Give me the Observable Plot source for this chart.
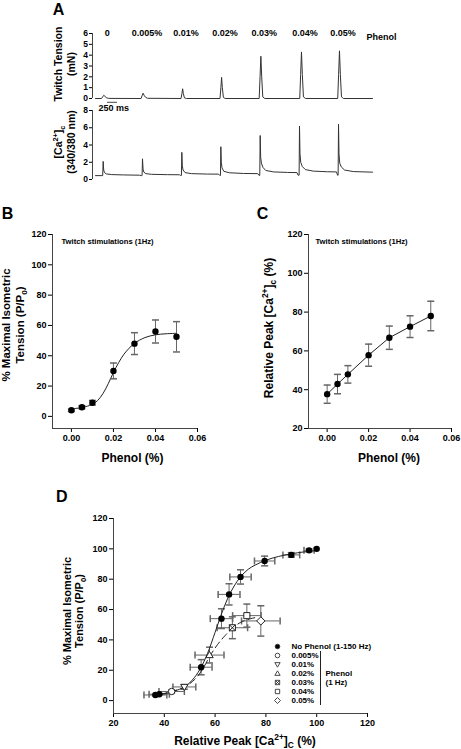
<!DOCTYPE html>
<html><head><meta charset="utf-8">
<script src="https://cdn.jsdelivr.net/npm/d3@7"></script>
<script src="https://cdn.jsdelivr.net/npm/@observablehq/plot@0.6"></script>
<style>
body{margin:0;background:#fff;}
#fig{position:relative;width:461px;height:749px;overflow:hidden;font-family:"Liberation Sans",Arial,sans-serif;font-weight:bold;color:#000;background:#fff;}
.t{position:absolute;white-space:nowrap;text-align:center;transform:translate(-50%,-50%);line-height:1;}
.yt{position:absolute;white-space:nowrap;text-align:center;transform:translate(-50%,-50%) rotate(-90deg);}
sup,sub{font-size:70%;line-height:0;}
svg{overflow:visible;}
</style></head><body><div id="fig"></div>
<script>
// ---------- DATA ----------
// Panel A traces: [time (ms), value]
const stimLabels = ["0", "0.005%", "0.01%", "0.02%", "0.03%", "0.04%", "0.05%"];
const stimTimes = [208, 1201, 2177, 3152, 4136, 5154, 6104];
const tensionTrace = [[0,0],[150,0],[180,0.15],[208,0.3],[235,0.2],[270,0.08],[330,0.01],[1140,0],[1165,0.25],[1190,0.49],[1215,0.3],[1250,0.12],[1300,0.02],[2140,0],[2162,0.45],[2180,0.9],[2198,0.45],[2225,0.06],[2275,0],[3115,0],[3137,1.0],[3155,1.95],[3173,1.0],[3200,0.1],[3245,0],[4095,0],[4117,2.0],[4137,3.9],[4158,2.0],[4185,0.15],[4235,0],[5110,0],[5132,2.2],[5153,4.3],[5175,2.2],[5202,0.15],[5255,0],[6060,0],[6082,2.2],[6104,4.4],[6126,2.2],[6154,0.15],[6205,0],[6930,0]];
const calciumTrace = [[0,0.45],[180,0.45],[192,2.1],[205,1.1],[225,0.8],[270,0.65],[400,0.57],[700,0.53],[1100,0.5],[1150,0.45],[1165,0.45],[1176,2.4],[1190,1.2],[1210,0.85],[1260,0.68],[1400,0.6],[1800,0.56],[2100,0.55],[2130,0.47],[2150,0.47],[2160,3.15],[2172,1.6],[2190,1.1],[2240,0.8],[2400,0.68],[2800,0.63],[3080,0.62],[3110,0.47],[3126,0.47],[3136,3.8],[3148,2.0],[3165,1.35],[3210,0.95],[3350,0.78],[3700,0.7],[4060,0.68],[4090,0.48],[4110,0.48],[4120,5.1],[4132,2.6],[4150,1.9],[4190,1.4],[4260,1.05],[4450,0.88],[4800,0.82],[5040,0.8],[5070,0.5],[5094,0.5],[5104,6.2],[5116,3.0],[5134,2.0],[5175,1.5],[5250,1.15],[5450,0.97],[5800,0.9],[6030,0.88],[6055,0.5],[6070,0.5],[6080,6.4],[6092,3.0],[6110,1.9],[6150,1.45],[6230,1.1],[6450,0.92],[6930,0.85]];
const scaleBarMs = [300, 550];

// Panels B & C
const phenol = [0, 0.005, 0.01, 0.02, 0.03, 0.04, 0.05];
const tensionMean = [4, 6, 9, 30, 48, 56, 52.5];
const tensionErr = [0.8, 1, 1.5, 5.2, 7.2, 7.6, 10];
const caMean = [37.7, 42.9, 47.9, 57.8, 66.8, 72.5, 78];
const caErr = [4.7, 5, 4.5, 5.7, 6, 5.6, 7.6];
const fitBx = [0, 0.005, 0.01, 0.0125, 0.015, 0.0175, 0.02, 0.0225, 0.025, 0.0275, 0.03, 0.035, 0.04, 0.045, 0.05];
const fitBy = [5, 5.8, 8, 10.5, 15, 21.5, 29, 35.5, 41, 45, 48.2, 52, 53.8, 54.5, 54.8];

// Panel D: no phenol (1-150 Hz)
const npCa = [36.5, 38, 54.5, 62.5, 65.5, 70, 79.5, 90, 97, 100];
const npCaErr = [4.5, 4, 4.3, 4.4, 4.3, 4.2, 4, 3.3, 2, 0];
const npTen = [3.7, 4.2, 22, 54, 70, 81.5, 92, 96, 99, 100];
const npTenErr = [0.5, 0.5, 5, 6.5, 7, 4.7, 3.2, 1.5, 1, 0];
const npFitX = [36, 40, 44, 48, 51, 54, 57, 60, 62.5, 65, 67.5, 70, 73, 76, 80, 85, 90, 95, 100];
const npFitY = [3.5, 4.5, 6.3, 9, 13.5, 20.5, 31, 45, 57, 67.5, 75.5, 81.5, 86.5, 89.5, 92.5, 95, 96.7, 98, 98.8];
const phFitX = [38, 43, 48, 52, 55, 58, 61, 64, 67, 70, 74, 77];
const phFitY = [4, 6, 9, 14, 20.5, 29.5, 37, 43, 48, 51.5, 54, 55];
const legendLabels = ["No Phenol (1-150 Hz)", "0.005%", "0.01%", "0.02%", "0.03%", "0.04%", "0.05%"];

// ---------- HELPERS ----------
const fig = document.getElementById("fig");
function place(node, left, top) { node.style.position = "absolute"; node.style.left = left + "px"; node.style.top = top + "px"; fig.appendChild(node); return node; }
function label(htmlStr, cls, cx, cy, size, lh) {
  const d = document.createElement("div"); d.className = cls; d.innerHTML = htmlStr;
  d.style.left = cx + "px"; d.style.top = cy + "px"; d.style.fontSize = size + "px";
  if (lh) d.style.lineHeight = lh + "px";
  fig.appendChild(d);
}
const FONT = {fontFamily: '"Liberation Sans", Arial, sans-serif', fontWeight: "bold", fontSize: "9px", color: "#000", background: "none", overflow: "visible"};
const AX = "#444", EB = "#666";
const capH = {draw(c) { c.moveTo(-3.5, 0); c.lineTo(3.5, 0); }};
const capV = {draw(c) { c.moveTo(0, -3.5); c.lineTo(0, 3.5); }};
const rr = s => Math.sqrt(s / Math.PI);
const symDown = {draw(c, s) { const r = rr(s) * 1.15; c.moveTo(0, r); c.lineTo(-r, -r * 0.7); c.lineTo(r, -r * 0.7); c.closePath(); }};
const symUp = {draw(c, s) { const r = rr(s) * 1.15; c.moveTo(0, -r); c.lineTo(-r, r * 0.7); c.lineTo(r, r * 0.7); c.closePath(); }};
const symSqX = {draw(c, s) { const r = rr(s) * 0.95; c.moveTo(-r, -r); c.lineTo(r, -r); c.lineTo(r, r); c.lineTo(-r, r); c.closePath(); c.moveTo(-r, -r); c.lineTo(r, r); c.moveTo(r, -r); c.lineTo(-r, r); }};
const symSq = {draw(c, s) { const r = rr(s) * 0.95; c.moveTo(-r, -r); c.lineTo(r, -r); c.lineTo(r, r); c.lineTo(-r, r); c.closePath(); }};
const symDia = {draw(c, s) { const r = rr(s) * 1.3; c.moveTo(0, -r); c.lineTo(r, 0); c.lineTo(0, r); c.lineTo(-r, 0); c.closePath(); }};
const phenolSyms = ["circle", symDown, symUp, symSqX, symSq, symDia];

// ---------- PANEL A ----------
const xA = {domain: [-75, 6930], axis: null};
place(Plot.plot({
  width: 461, height: 80, marginLeft: 92, marginRight: 89, marginTop: 8, marginBottom: 7,
  x: xA, y: {domain: [0, 6], ticks: [0,1,2,3,4,5,6], tickFormat: d3.format("d"), tickSize: 3, tickPadding: 1.5, label: null},
  style: {...FONT, fontSize: "8.5px"},
  marks: [
    Plot.ruleX([-75], {stroke: AX}),
    Plot.line(tensionTrace, {x: d => d[0], y: d => d[1], stroke: "#333", strokeWidth: 1}),
    Plot.text(stimLabels, {x: (d, i) => stimTimes[i], y: 6, dx: 3.5, text: d => d, fontSize: 9}),
    Plot.text(["Phenol"], {frameAnchor: "top-right", textAnchor: "start", dx: -6, fontSize: 9})
  ]
}), 0, 25);

place(Plot.plot({
  width: 461, height: 90, marginLeft: 92, marginRight: 89, marginTop: 15, marginBottom: 6,
  x: xA, y: {domain: [0, 8], ticks: [0,2,4,6,8], tickFormat: d3.format("d"), tickSize: 3, tickPadding: 1.5, label: null},
  style: {...FONT, fontSize: "8.5px"},
  marks: [
    Plot.ruleX([-75], {stroke: AX}),
    Plot.line(calciumTrace, {x: d => d[0], y: d => d[1], stroke: "#333", strokeWidth: 1}),
    Plot.ruleY([8.95], {x1: scaleBarMs[0], x2: scaleBarMs[1], stroke: "#444", strokeWidth: 1}),
    Plot.text(["250 ms"], {x: scaleBarMs[0], y: 8.25, dx: -9, textAnchor: "start", fontSize: 9})
  ]
}), 0, 95);

// ---------- PANEL B ----------
const dataB = phenol.map((p, i) => ({p, t: tensionMean[i], e: tensionErr[i], c: caMean[i], ce: caErr[i]}));
const fitB = fitBx.map((x, i) => ({x, y: fitBy[i]}));
const xBC = {domain: [-0.009, 0.06], ticks: [0, 0.02, 0.04, 0.06], tickFormat: d3.format(".2f"), tickSize: 4, tickPadding: 2, label: null};
place(Plot.plot({
  width: 230, height: 260, marginLeft: 52, marginRight: 33, marginTop: 9, marginBottom: 57,
  x: xBC, y: {domain: [-8, 120], ticks: [0,20,40,60,80,100,120], tickSize: 4, tickPadding: 2, label: null},
  style: FONT,
  marks: [
    Plot.ruleX([-0.009], {stroke: AX}), Plot.ruleY([-8], {stroke: AX}),
    Plot.line(fitB, {x: "x", y: "y", curve: "catmull-rom", stroke: "#222", strokeWidth: 1}),
    Plot.ruleX(dataB, {x: "p", y1: d => d.t - d.e, y2: d => d.t + d.e, stroke: EB}),
    Plot.dot(dataB, {x: "p", y: d => d.t + d.e, symbol: capH, stroke: EB}),
    Plot.dot(dataB, {x: "p", y: d => d.t - d.e, symbol: capH, stroke: EB}),
    Plot.dot(dataB, {x: "p", y: "t", r: 3.2, fill: "#000"}),
    Plot.text(["Twitch stimulations (1Hz)"], {frameAnchor: "top-left", textAnchor: "start", dx: 9, dy: 4, fontSize: 7.7})
  ]
}), 0, 225);

// ---------- PANEL C ----------
place(Plot.plot({
  width: 231, height: 260, marginLeft: 78, marginRight: 10, marginTop: 9, marginBottom: 57,
  x: xBC, y: {domain: [20, 120], ticks: [20,40,60,80,100,120], tickSize: 4, tickPadding: 2, label: null},
  style: FONT,
  marks: [
    Plot.ruleX([-0.009], {stroke: AX}), Plot.ruleY([20], {stroke: AX}),
    Plot.line(dataB, {x: "p", y: "c", stroke: "#222", strokeWidth: 1}),
    Plot.ruleX(dataB, {x: "p", y1: d => d.c - d.ce, y2: d => d.c + d.ce, stroke: EB}),
    Plot.dot(dataB, {x: "p", y: d => d.c + d.ce, symbol: capH, stroke: EB}),
    Plot.dot(dataB, {x: "p", y: d => d.c - d.ce, symbol: capH, stroke: EB}),
    Plot.dot(dataB, {x: "p", y: "c", r: 3.2, fill: "#000"}),
    Plot.text(["Twitch stimulations (1Hz)"], {frameAnchor: "top-left", textAnchor: "start", dx: 7, dy: 4, fontSize: 7.7})
  ]
}), 230, 225);

// ---------- PANEL D ----------
const np = npCa.map((c, i) => ({c, ce: npCaErr[i], t: npTen[i], te: npTenErr[i]}));
const ph = phenol.slice(1).map((p, i) => ({c: caMean[i + 1], ce: caErr[i + 1], t: tensionMean[i + 1], te: tensionErr[i + 1], sym: phenolSyms[i]}));
const npFit = npFitX.map((x, i) => ({x, y: npFitY[i]}));
const phFit = phFitX.map((x, i) => ({x, y: phFitY[i]}));
const all = np.concat(ph).filter(d => d.ce > 0 || d.te > 0);
const errMarks = [
  Plot.ruleY(all, {y: "t", x1: d => d.c - d.ce, x2: d => d.c + d.ce, stroke: EB}),
  Plot.ruleX(all, {x: "c", y1: d => d.t - d.te, y2: d => d.t + d.te, stroke: EB}),
  Plot.dot(all, {x: d => d.c - d.ce, y: "t", symbol: capV, stroke: EB}),
  Plot.dot(all, {x: d => d.c + d.ce, y: "t", symbol: capV, stroke: EB}),
  Plot.dot(all, {x: "c", y: d => d.t - d.te, symbol: capH, stroke: EB}),
  Plot.dot(all, {x: "c", y: d => d.t + d.te, symbol: capH, stroke: EB})
];
place(Plot.plot({
  width: 461, height: 244, marginLeft: 113, marginRight: 94, marginTop: 13, marginBottom: 36,
  x: {domain: [20, 120], ticks: [20,40,60,80,100,120], tickSize: 4, tickPadding: 2, label: null},
  y: {domain: [-8.5, 120], ticks: [0,20,40,60,80,100,120], tickSize: 4, tickPadding: 2, label: null},
  style: FONT,
  marks: [
    Plot.ruleX([20], {stroke: AX}), Plot.ruleY([-8.5], {stroke: AX}),
    ...errMarks,
    Plot.line(npFit, {x: "x", y: "y", curve: "catmull-rom", stroke: "#222", strokeWidth: 1}),
    Plot.line(phFit, {x: "x", y: "y", curve: "catmull-rom", stroke: "#222", strokeWidth: 1, strokeDasharray: "7,4"}),
    Plot.dot(np, {x: "c", y: "t", r: 3.2, fill: "#000"}),
    ...ph.map(d => Plot.dot([d], {x: "c", y: "t", r: 3.2, symbol: d.sym, fill: "#fff", stroke: "#222", strokeWidth: 1}))
  ]
}), 0, 505);

// legend for D
const legSyms = ["circle", "circle", symDown, symUp, symSqX, symSq, symDia];
place(Plot.plot({
  width: 140, height: 72, marginLeft: 15, marginRight: 25, marginTop: 6.3, marginBottom: 8,
  x: {domain: [0, 1], axis: null}, y: {type: "point", domain: legendLabels, padding: 0, axis: null},
  style: {...FONT, fontSize: "8px"},
  marks: [
    ...legendLabels.map((l, i) => Plot.dot([l], {x: 0, y: d => d, r: 2.3, symbol: legSyms[i], fill: i === 0 ? "#000" : "#fff", stroke: "#333", strokeWidth: 0.9})),
    Plot.text(legendLabels, {x: 0, y: d => d, dx: 14, textAnchor: "start", text: d => d}),
    Plot.ruleX([0], {y1: () => legendLabels[1], y2: () => legendLabels[6], dx: 43, insetTop: -4, insetBottom: -5, stroke: "#222"}),
    Plot.text(["Phenol"], {x: 0, y: () => legendLabels[3], dx: 48, textAnchor: "start"}),
    Plot.text(["(1 Hz)"], {x: 0, y: () => legendLabels[4], dx: 48, textAnchor: "start"})
  ]
}), 262, 638);

// ---------- TEXT LABELS ----------
label("A", "t", 58.5, 9.5, 16);
label("B", "t", 7.5, 213.5, 16);
label("C", "t", 262.5, 213.5, 16);
label("D", "t", 61.7, 497, 16);
label("Twitch Tension<br>(mN)", "yt", 65, 63.5, 10.5, 13);
label("[Ca<sup>2+</sup>]<sub>c</sub><br>(340/380 nm)", "yt", 65, 141.5, 10.5, 13);
label("% Maximal Isometric<br>Tension (P/P<sub>0</sub>)", "yt", 13, 325, 11.5, 13.5);
label("Relative Peak [Ca<sup>2+</sup>]<sub>c</sub> (%)", "yt", 269, 328, 12, 14);
label("% Maximal Isometric<br>Tension (P/P<sub>0</sub>)", "yt", 73, 611, 11, 12);
label("Phenol (%)", "t", 132.5, 457.7, 12);
label("Phenol (%)", "t", 389, 458, 12);
label("Relative Peak [Ca<sup>2+</sup>]<sub>C</sub> (%)", "t", 245, 740.5, 12);
</script></body></html>
